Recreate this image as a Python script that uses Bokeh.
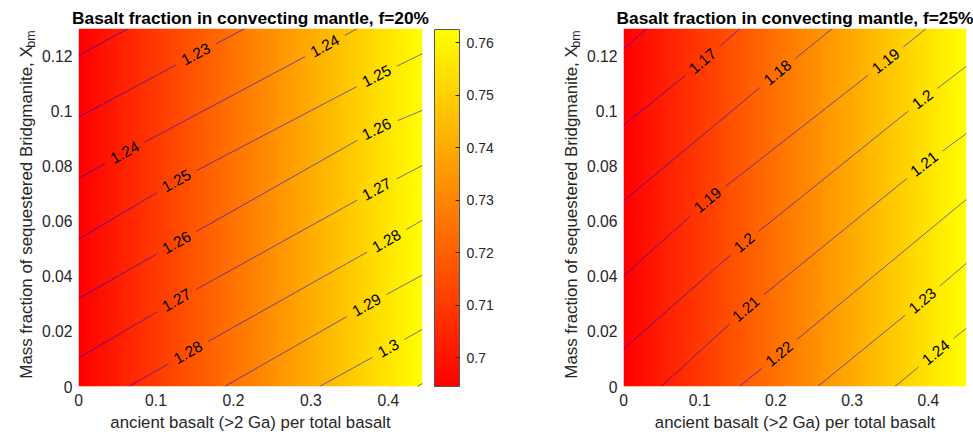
import numpy as np
from bokeh.plotting import figure
from bokeh.layouts import row
from bokeh.models import (LinearColorMapper, ColorBar, FixedTicker,
                          CustomJSTickFormatter, Range1d)
from bokeh.core.properties import value
from bokeh.embed import file_html
from bokeh.resources import INLINE

# ---------------- data ----------------
x_ticks = [0, 0.1, 0.2, 0.3, 0.4]
y_ticks = [0, 0.02, 0.04, 0.06, 0.08, 0.1, 0.12]
cbar_ticks = [0.70, 0.71, 0.72, 0.73, 0.74, 0.75, 0.76]

y_max = 0.13
x_max_20 = 0.444
x_max_25 = 0.45

# basalt fraction in convecting mantle (colour field) along x
frac_x_20 = [0.0, 0.1, 0.2, 0.3, 0.4, 0.444]
frac_v_20 = [0.6945, 0.7098, 0.7251, 0.7404, 0.7557, 0.7625]
frac_x_25 = [0.0, 0.1, 0.2, 0.3, 0.4, 0.45]
frac_v_25 = [0.655, 0.671, 0.687, 0.703, 0.719, 0.727]

# contour lines, f=20% : level, entry point, exit point
c20_level = [1.22, 1.23, 1.24, 1.25, 1.26, 1.27, 1.28, 1.29, 1.30, 1.31]
c20_x0 = [0.0, 0.0, 0.0, 0.0, 0.0, 0.0, 0.0646, 0.1886, 0.311, 0.437]
c20_y0 = [0.1202, 0.0978, 0.0756, 0.0535, 0.0319, 0.0103, 0.0, 0.0, 0.0, 0.0]
c20_x1 = [0.0642, 0.215, 0.360, 0.444, 0.444, 0.444, 0.444, 0.444, 0.444, 0.444]
c20_y1 = [0.13, 0.13, 0.13, 0.1209, 0.1003, 0.0803, 0.0604, 0.0405, 0.0208, 0.0012]
# contour labels, f=20%
l20_level = [1.23, 1.24, 1.24, 1.25, 1.25, 1.26, 1.26, 1.27, 1.27, 1.28, 1.28, 1.29, 1.30]
l20_x = [0.1515, 0.0598, 0.318, 0.1266, 0.3849, 0.1266, 0.3849, 0.1266, 0.3849, 0.1417, 0.3978, 0.3719, 0.400]
l20_y = [0.1206, 0.0849, 0.1236, 0.0746, 0.1127, 0.0522, 0.0934, 0.0313, 0.0716, 0.0123, 0.0528, 0.0295, 0.0138]

# contour lines, f=25%
c25_level = [1.16, 1.17, 1.18, 1.19, 1.20, 1.21, 1.22, 1.23, 1.24]
c25_x0 = [0.0, 0.0, 0.0, 0.0, 0.0, 0.0493, 0.152, 0.2548, 0.3562]
c25_y0 = [0.1226, 0.0948, 0.0674, 0.0401, 0.0136, 0.0, 0.0, 0.0, 0.0]
c25_x1 = [0.031, 0.153, 0.274, 0.397, 0.45, 0.45, 0.45, 0.45, 0.45]
c25_y1 = [0.13, 0.13, 0.13, 0.13, 0.1163, 0.0919, 0.068, 0.0448, 0.0212]
# contour labels, f=25%
l25_level = [1.17, 1.18, 1.19, 1.19, 1.20, 1.20, 1.21, 1.21, 1.22, 1.23, 1.24]
l25_x = [0.104, 0.2024, 0.1106, 0.3444, 0.1587, 0.3925, 0.1608, 0.3948, 0.2046, 0.3925, 0.410]
l25_y = [0.1181, 0.1139, 0.0676, 0.1181, 0.0522, 0.1042, 0.0281, 0.0807, 0.0118, 0.0311, 0.0123]

titles = ["Basalt fraction in convecting mantle, f=20%",
          "Basalt fraction in convecting mantle, f=25%"]
x_label = "ancient basalt (>2 Ga) per total basalt"
y_label_main = "Mass fraction of sequestered Bridgmanite, X"
y_label_sub = "bm"

# ---------------- styling ----------------
FONT = "Liberation Sans"
TXT = "#262626"
TOP = 28
BOTTOM = 49
FRAME_H = 358
CLABEL_PX = 15.5
autumn = ["#ff%02x00" % i for i in range(256)]
fmt_code = "return String(tick)"


def contour_pieces(levels, x0, y0, x1, y1, lab_lev, lab_x, lab_y, kx, ky):
    """Split each contour polyline around its labels (gaps in screen space)."""
    xs_out, ys_out = [], []
    tx, ty, tt, ta = [], [], [], []
    for lev, a, b, c, d in zip(levels, x0, y0, x1, y1):
        labs = [(lx, ly) for L, lx, ly in zip(lab_lev, lab_x, lab_y) if abs(L - lev) < 1e-9]
        pts = sorted([(a, b), (c, d)] + labs)
        sx = np.array([p[0] for p in pts]) * kx
        sy = np.array([p[1] for p in pts]) * ky
        s = np.concatenate([[0.0], np.cumsum(np.hypot(np.diff(sx), np.diff(sy)))])
        total = s[-1]
        text = "%g" % lev
        w = CLABEL_PX * (0.556 * sum(ch.isdigit() for ch in text) + 0.278 * text.count("."))
        half = w / 2 + 7.5

        def at(sv):
            return np.interp(sv, s, sx), np.interp(sv, s, sy)

        cuts = []
        for lab in labs:
            i = pts.index(lab)
            sl = s[i]
            cuts.append((sl - half, sl + half))
            ax_, ay_ = at(max(sl - half, 0))
            bx_, by_ = at(min(sl + half, total))
            tx.append(lab[0])
            ty.append(lab[1])
            tt.append(text)
            ta.append(float(np.arctan2(by_ - ay_, bx_ - ax_)))
        cuts.sort()
        pieces = []
        start = 0.0
        for u, v in cuts:
            if u > start:
                pieces.append((start, u))
            start = max(start, v)
        if start < total:
            pieces.append((start, total))
        for u, v in pieces:
            inner = [k for k in range(len(s)) if u < s[k] < v]
            px = [at(u)[0]] + [sx[k] for k in inner] + [at(v)[0]]
            py = [at(u)[1]] + [sy[k] for k in inner] + [at(v)[1]]
            xs_out.append([q / kx for q in px])
            ys_out.append([q / ky for q in py])
    return xs_out, ys_out, tx, ty, tt, ta


def label_fig(width, main_cx, sub_cx):
    """Narrow strip holding the rotated y-axis title with its subscript.
    Its frame has the same vertical extent as the panels (1 unit = 1 px)."""
    f = figure(frame_width=width, frame_height=FRAME_H,
               min_border_left=0, min_border_right=0,
               min_border_top=TOP, min_border_bottom=BOTTOM,
               x_range=Range1d(0, width), y_range=Range1d(0, FRAME_H),
               x_axis_type=None, y_axis_type=None,
               output_backend="svg", toolbar_location=None)
    f.outline_line_color = None
    f.xgrid.visible = False
    f.ygrid.visible = False
    f.background_fill_color = "white"
    f.border_fill_color = "white"
    base = TOP + FRAME_H            # canvas y of the frame bottom
    f.text(x=[main_cx], y=[base - 212], text=[y_label_main], angle=np.pi / 2,
           text_align="center", text_baseline="middle", text_font=value(FONT),
           text_font_size="16.9px", text_color=TXT)
    f.text(x=[sub_cx], y=[base - 38.5], text=[y_label_sub], angle=np.pi / 2,
           text_align="center", text_baseline="middle", text_font=value(FONT),
           text_font_size="12.5px", text_color=TXT)
    return f


def make_panel(title, x_max, frame_w, border_l, border_r, fx, fv,
               levels, x0, y0, x1, y1, lab_lev, lab_x, lab_y):
    p = figure(frame_width=frame_w, frame_height=FRAME_H,
               min_border_left=border_l, min_border_right=border_r,
               min_border_top=TOP, min_border_bottom=BOTTOM,
               x_range=Range1d(0, x_max), y_range=Range1d(0, y_max),
               output_backend="svg", toolbar_location=None, title=title)
    p.title.text_font = FONT
    p.title.text_font_size = "17.3px"
    p.title.text_font_style = "bold"
    p.title.text_color = "black"
    p.title.align = "center"
    p.title.standoff = 2
    p.xgrid.visible = False
    p.ygrid.visible = False
    p.outline_line_color = None
    p.background_fill_color = "white"
    p.border_fill_color = "white"

    mapper = LinearColorMapper(palette=autumn, low=min(fv), high=max(fv))
    xf = np.linspace(0, x_max, 800)
    vals = np.interp(xf, fx, fv)
    p.image(image=[np.vstack([vals, vals])], x=0, y=0, dw=x_max, dh=y_max,
            color_mapper=mapper)

    kx = frame_w / x_max
    ky = FRAME_H / y_max
    xs, ys, tx, ty, tt, ta = contour_pieces(levels, x0, y0, x1, y1,
                                            lab_lev, lab_x, lab_y, kx, ky)
    p.multi_line(xs=xs, ys=ys, line_color="#0000ff", line_width=0.7, line_alpha=0.8)
    p.text(x=tx, y=ty, text=tt, angle=ta, text_align="center", text_baseline="middle",
           text_font=value(FONT), text_font_size="15.5px", text_color="black")

    p.xaxis.ticker = FixedTicker(ticks=x_ticks)
    p.yaxis.ticker = FixedTicker(ticks=y_ticks)
    for ax in (p.xaxis[0], p.yaxis[0]):
        ax.formatter = CustomJSTickFormatter(code=fmt_code)
        ax.axis_line_color = None
        ax.major_tick_line_color = None
        ax.minor_tick_line_color = None
        ax.major_tick_out = 0
        ax.major_tick_in = 0
        ax.minor_tick_out = 0
        ax.minor_tick_in = 0
        ax.major_label_text_font = FONT
        ax.major_label_text_font_size = "15.7px"
        ax.major_label_text_color = TXT
    p.xaxis.major_label_standoff = 7
    p.yaxis.major_label_standoff = 6
    p.xaxis.axis_label = x_label
    p.xaxis.axis_label_text_font = FONT
    p.xaxis.axis_label_text_font_size = "16.8px"
    p.xaxis.axis_label_text_font_style = "normal"
    p.xaxis.axis_label_text_color = TXT
    p.xaxis.axis_label_standoff = 4
    return p, mapper


# left block: label strip 0..38, panel frame at x=77
lab_left = label_fig(38, 25.8, 30.7)
left, mapper20 = make_panel(titles[0], x_max_20, 344, 39, 119, frac_x_20, frac_v_20,
                            c20_level, c20_x0, c20_y0, c20_x1, c20_y1,
                            l20_level, l20_x, l20_y)
# right block: label strip 540..582, panel frame at x=621
lab_right = label_fig(42, 29.5, 34.4)
right, _ = make_panel(titles[1], x_max_25, 343, 39, 9, frac_x_25, frac_v_25,
                      c25_level, c25_x0, c25_y0, c25_x1, c25_y1,
                      l25_level, l25_x, l25_y)

cb = ColorBar(color_mapper=mapper20, ticker=FixedTicker(ticks=cbar_ticks),
              formatter=CustomJSTickFormatter(code=fmt_code),
              width=25, height=357, padding=0, margin=0, location=(12, 0),
              label_standoff=7, major_label_text_font=FONT,
              major_label_text_font_size="14px", major_label_text_color=TXT,
              major_tick_in=4, major_tick_out=0, major_tick_line_color=TXT,
              minor_tick_line_color=None,
              bar_line_color="#555555", bar_line_width=1,
              border_line_color=None, background_fill_color=None)
left.add_layout(cb, "right")

layout = row(lab_left, left, lab_right, right)
open("out.html", "w").write(file_html(layout, INLINE))
